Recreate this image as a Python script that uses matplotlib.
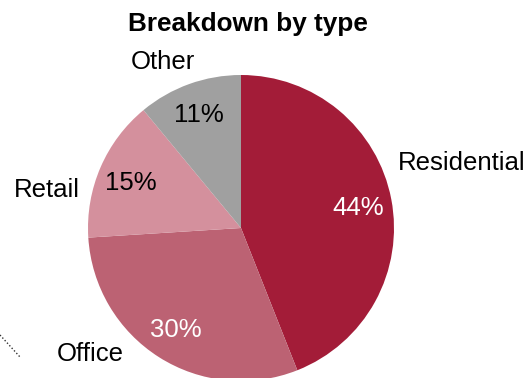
import matplotlib
matplotlib.use("Agg")
import matplotlib.pyplot as plt
from matplotlib.lines import Line2D

categories = ["Residential", "Office", "Retail", "Other"]
shares = [44, 30, 15, 11]
colors = ["#A31C38", "#BC6273", "#D4909D", "#A0A0A0"]
pct_colors = ["white", "white", "black", "black"]

plt.rcParams["font.family"] = ["Liberation Sans", "DejaVu Sans"]

W, H = 530, 378
fig = plt.figure(figsize=(W / 100, H / 100), dpi=100)

# pie centre and radius in pixels
cx, cy, r = 241, 228, 153
ax = fig.add_axes([(cx - r) / W, (H - cy - r) / H, 2 * r / W, 2 * r / H])

wedges, texts, autotexts = ax.pie(
    shares, colors=colors, startangle=90, counterclock=False, radius=1,
    autopct=lambda p: f"{p:.0f}%", pctdistance=0.68,
    labels=categories, labeldistance=1.2,
    textprops=dict(fontsize=18.5),
    wedgeprops=dict(linewidth=0),
)
ax.set_aspect("auto")
ax.set_xlim(-1, 1)
ax.set_ylim(-1, 1)
ax.axis("off")
for w in wedges:
    w.set_clip_on(False)
for t, c in zip(autotexts, pct_colors):
    t.set_color(c)

# outer label placement (figure pixels)
label_pos = {"Residential": (462, 163), "Office": (90, 354), "Retail": (47, 190), "Other": (163, 62)}
for t in texts:
    x, y = label_pos[t.get_text()]
    t.set_transform(fig.transFigure)
    t.set_position((x / W, 1 - y / H))
    t.set_ha("center")
    t.set_va("center")

pct_pos = [(358, 208), (176, 330), (131, 183), (199, 115)]
for t, (x, y) in zip(autotexts, pct_pos):
    t.set_transform(fig.transFigure)
    t.set_position((x / W, 1 - y / H))
    t.set_ha("center")
    t.set_va("center")

fig.text(248 / W, 1 - 24 / H, "Breakdown by type", ha="center", va="center",
         fontsize=18.8, fontweight="bold")

# dotted leader fragment at the lower left
fig.add_artist(Line2D([0 / W, 20 / W], [1 - 335 / H, 1 - 357 / H],
                      transform=fig.transFigure, color="#333333",
                      linestyle=(0, (1, 1.5)), linewidth=1))

fig.savefig("out.png", dpi=100)
